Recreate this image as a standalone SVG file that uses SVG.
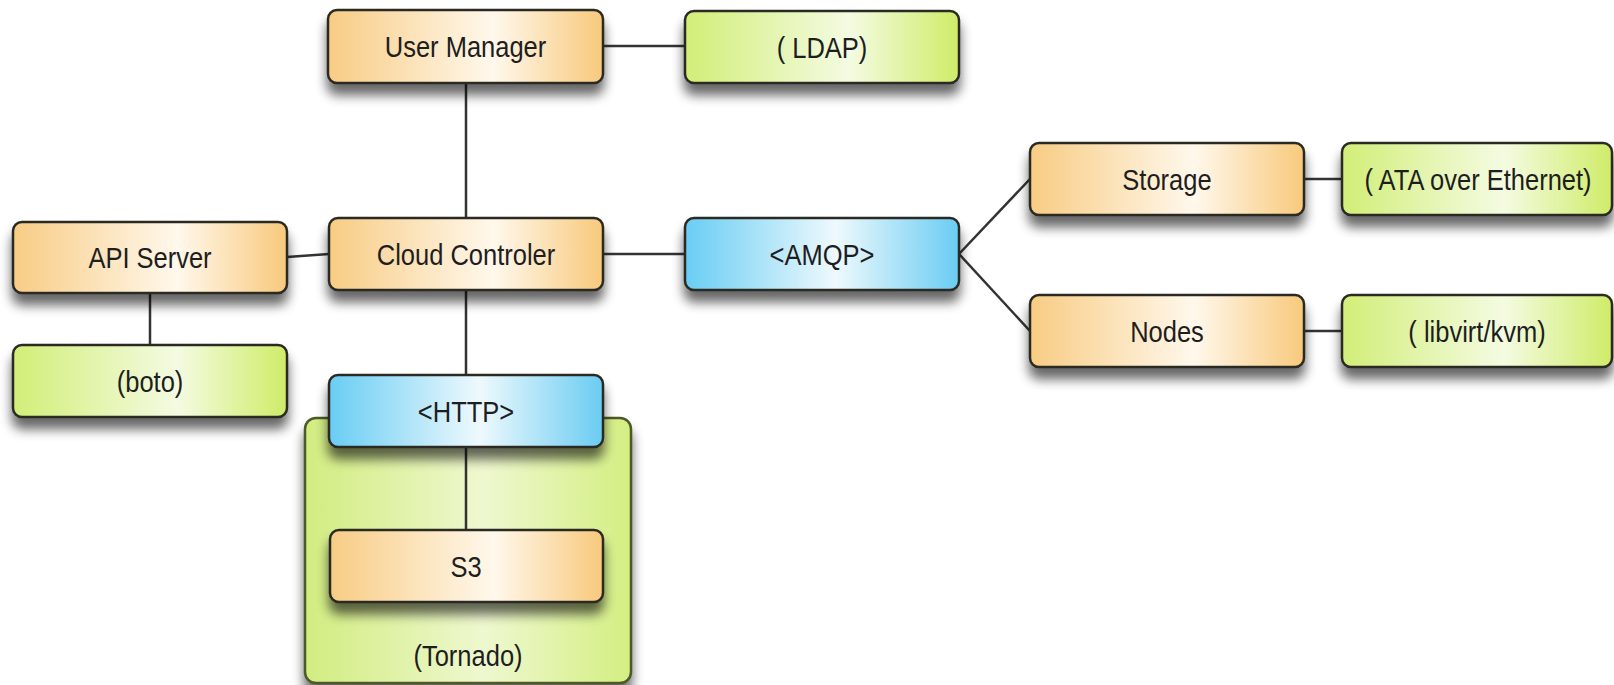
<svg xmlns="http://www.w3.org/2000/svg" width="1614" height="685" viewBox="0 0 1614 685">
<style>
.box{stroke:#2a2a22;stroke-width:2.5}
.o{fill:url(#gO)}
.g{fill:url(#gG)}
.b{fill:url(#gB)}
.lbl{font-family:"Liberation Sans",Arial,sans-serif;font-size:30px;fill:#1e1e1e;text-anchor:middle}
.edge{stroke:#333;stroke-width:2.5;fill:none}
</style>
<defs>
<linearGradient id="gO" x1="0" y1="0" x2="1" y2="0">
<stop offset="0" stop-color="#f8cc84"/><stop offset="0.6" stop-color="#fff8ec"/><stop offset="1" stop-color="#f8c97c"/>
</linearGradient>
<linearGradient id="gG" x1="0" y1="0" x2="1" y2="0">
<stop offset="0" stop-color="#d2ee78"/><stop offset="0.6" stop-color="#f4fbe2"/><stop offset="1" stop-color="#cfec68"/>
</linearGradient>
<linearGradient id="gB" x1="0" y1="0" x2="1" y2="0">
<stop offset="0" stop-color="#69cdf4"/><stop offset="0.55" stop-color="#eef9fd"/><stop offset="1" stop-color="#6accf2"/>
</linearGradient>
<linearGradient id="gC" x1="0" y1="0" x2="1" y2="0">
<stop offset="0" stop-color="#d2ec80"/><stop offset="0.55" stop-color="#eef8cf"/><stop offset="1" stop-color="#d4ee82"/>
</linearGradient>
<filter id="sh" x="-10%" y="-20%" width="120%" height="190%" color-interpolation-filters="sRGB">
<feGaussianBlur in="SourceAlpha" stdDeviation="6"/>
<feOffset dx="0" dy="11" result="b"/>
<feComponentTransfer in="b" result="s"><feFuncA type="linear" slope="0.6"/></feComponentTransfer>
<feMerge><feMergeNode in="s"/><feMergeNode in="SourceGraphic"/></feMerge>
</filter>
</defs>
<rect width="1614" height="685" fill="#ffffff"/>

<g id="tornado">
<rect x="305" y="418" width="326" height="265" rx="11" fill="url(#gC)" stroke="#4d5a26" stroke-width="2.5" filter="url(#sh)"/>
<text class="lbl" transform="translate(468,666) scale(0.85,1)">(Tornado)</text>
</g>

<g id="connectors">
<line class="edge" x1="603" y1="46" x2="685" y2="46"/>
<line class="edge" x1="466" y1="83" x2="466" y2="218"/>
<line class="edge" x1="287" y1="257" x2="329" y2="254"/>
<line class="edge" x1="150" y1="293" x2="150" y2="345"/>
<line class="edge" x1="603" y1="254" x2="685" y2="254"/>
<line class="edge" x1="466" y1="290" x2="466" y2="375"/>
<line class="edge" x1="466" y1="447" x2="466" y2="530"/>
<line class="edge" x1="959" y1="254" x2="1030" y2="179"/>
<line class="edge" x1="959" y1="254" x2="1030" y2="331"/>
<line class="edge" x1="1304" y1="179" x2="1342" y2="179"/>
<line class="edge" x1="1304" y1="331" x2="1342" y2="331"/>
</g>

<g id="user-manager">
<rect class="box o" x="328" y="10" width="275" height="73" rx="9" filter="url(#sh)"/>
<text class="lbl" transform="translate(465.5,57) scale(0.85,1)">User Manager</text>
</g>
<g id="ldap">
<rect class="box g" x="685" y="11" width="274" height="72" rx="9" filter="url(#sh)"/>
<text class="lbl" transform="translate(822,57.5) scale(0.85,1)">( LDAP)</text>
</g>
<g id="api-server">
<rect class="box o" x="13" y="222" width="274" height="71" rx="9" filter="url(#sh)"/>
<text class="lbl" transform="translate(150,268) scale(0.85,1)">API Server</text>
</g>
<g id="cloud-controler">
<rect class="box o" x="329" y="218" width="274" height="72" rx="9" filter="url(#sh)"/>
<text class="lbl" transform="translate(466,264.5) scale(0.85,1)">Cloud Controler</text>
</g>
<g id="amqp">
<rect class="box b" x="685" y="218" width="274" height="72" rx="9" filter="url(#sh)"/>
<text class="lbl" transform="translate(822,264.5) scale(0.85,1)">&lt;AMQP&gt;</text>
</g>
<g id="boto">
<rect class="box g" x="13" y="345" width="274" height="72" rx="9" filter="url(#sh)"/>
<text class="lbl" transform="translate(150,391.5) scale(0.85,1)">(boto)</text>
</g>
<g id="http">
<rect class="box b" x="329" y="375" width="274" height="72" rx="9" filter="url(#sh)"/>
<text class="lbl" transform="translate(466,421.5) scale(0.85,1)">&lt;HTTP&gt;</text>
</g>
<g id="s3">
<rect class="box o" x="330" y="530" width="273" height="72" rx="9" filter="url(#sh)"/>
<text class="lbl" transform="translate(466,576.5) scale(0.85,1)">S3</text>
</g>
<g id="storage">
<rect class="box o" x="1030" y="143" width="274" height="72" rx="9" filter="url(#sh)"/>
<text class="lbl" transform="translate(1167,189.5) scale(0.85,1)">Storage</text>
</g>
<g id="ata">
<rect class="box g" x="1342" y="143" width="270" height="72" rx="9" filter="url(#sh)"/>
<text class="lbl" transform="translate(1478,189.5) scale(0.85,1)">( ATA over Ethernet)</text>
</g>
<g id="nodes">
<rect class="box o" x="1030" y="295" width="274" height="72" rx="9" filter="url(#sh)"/>
<text class="lbl" transform="translate(1167,341.5) scale(0.85,1)">Nodes</text>
</g>
<g id="libvirt">
<rect class="box g" x="1342" y="295" width="270" height="72" rx="9" filter="url(#sh)"/>
<text class="lbl" transform="translate(1477,341.5) scale(0.85,1)">( libvirt/kvm)</text>
</g>
</svg>
